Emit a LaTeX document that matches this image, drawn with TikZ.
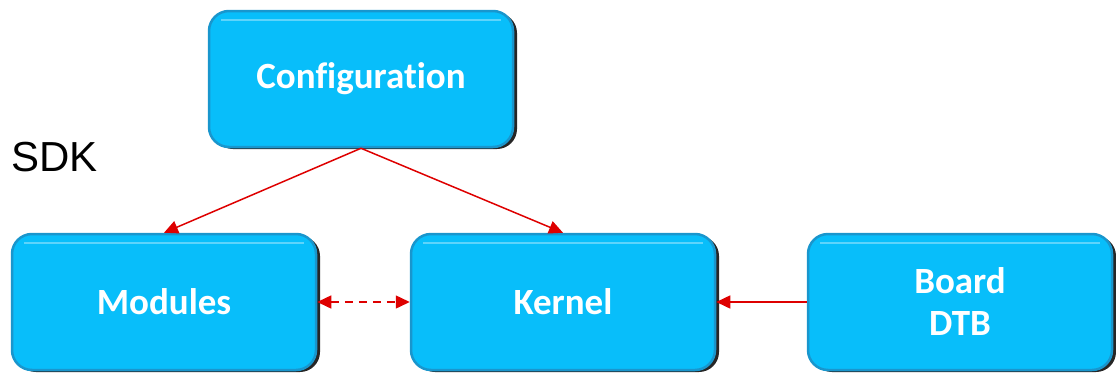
\documentclass[tikz,border=0pt]{standalone}
\usepackage{fontspec}
\setmainfont[Ligatures=NoCommon]{Carlito}
\newfontfamily\labelfont{Liberation Sans}
\usetikzlibrary{arrows.meta}
\usetikzlibrary{shadows}
\definecolor{boxblue}{RGB}{8,190,250}
\definecolor{boxedge}{RGB}{25,150,205}
\definecolor{linkred}{RGB}{222,0,0}

\tikzset{
  block/.style={rounded corners=20pt, fill=boxblue, draw=boxedge, line width=2.5pt,
    minimum width=304pt, minimum height=136pt, inner sep=0pt, align=center,
    text=white, font=\fontsize{37}{42}\selectfont\bfseries,
    general shadow={shadow xshift=4pt, shadow yshift=-2pt, fill=black!85},
    path picture={\draw[white, opacity=0.35, line width=2pt]
      ([xshift=12pt,yshift=-9pt]path picture bounding box.north west) --
      ([xshift=-12pt,yshift=-9pt]path picture bounding box.north east);}},
  link/.style={draw=linkred, line width=1.5pt, -{Triangle[length=14pt,width=13pt]}},
}

\begin{document}
\begin{tikzpicture}[x=1pt, y=-1pt]
  \useasboundingbox (0,0) rectangle (1116,375);

  % Blocks
  \node[block] (config)  at (361,79)  {Configuration};
  \node[block] (modules) at (164,302) {Modules};
  \node[block] (kernel)  at (563,302) {Kernel};
  \node[block] (board)   at (960,302) {Board\\DTB};

  % Label
  \node[anchor=west, inner sep=0pt, font=\labelfont\fontsize{42}{42}\selectfont] (sdk) at (11,157) {SDK};

  % Links
  \draw[link] (config.south) -- (modules.north);
  \draw[link] (config.south) -- (kernel.north);
  \draw[link, dashed, dash pattern=on 8pt off 6pt, {Triangle[length=14pt,width=13pt]}-{Triangle[length=14pt,width=13pt]}]
    (modules.east) -- (kernel.west);
  \draw[link] (board.west) -- (kernel.east);
\end{tikzpicture}
\end{document}
